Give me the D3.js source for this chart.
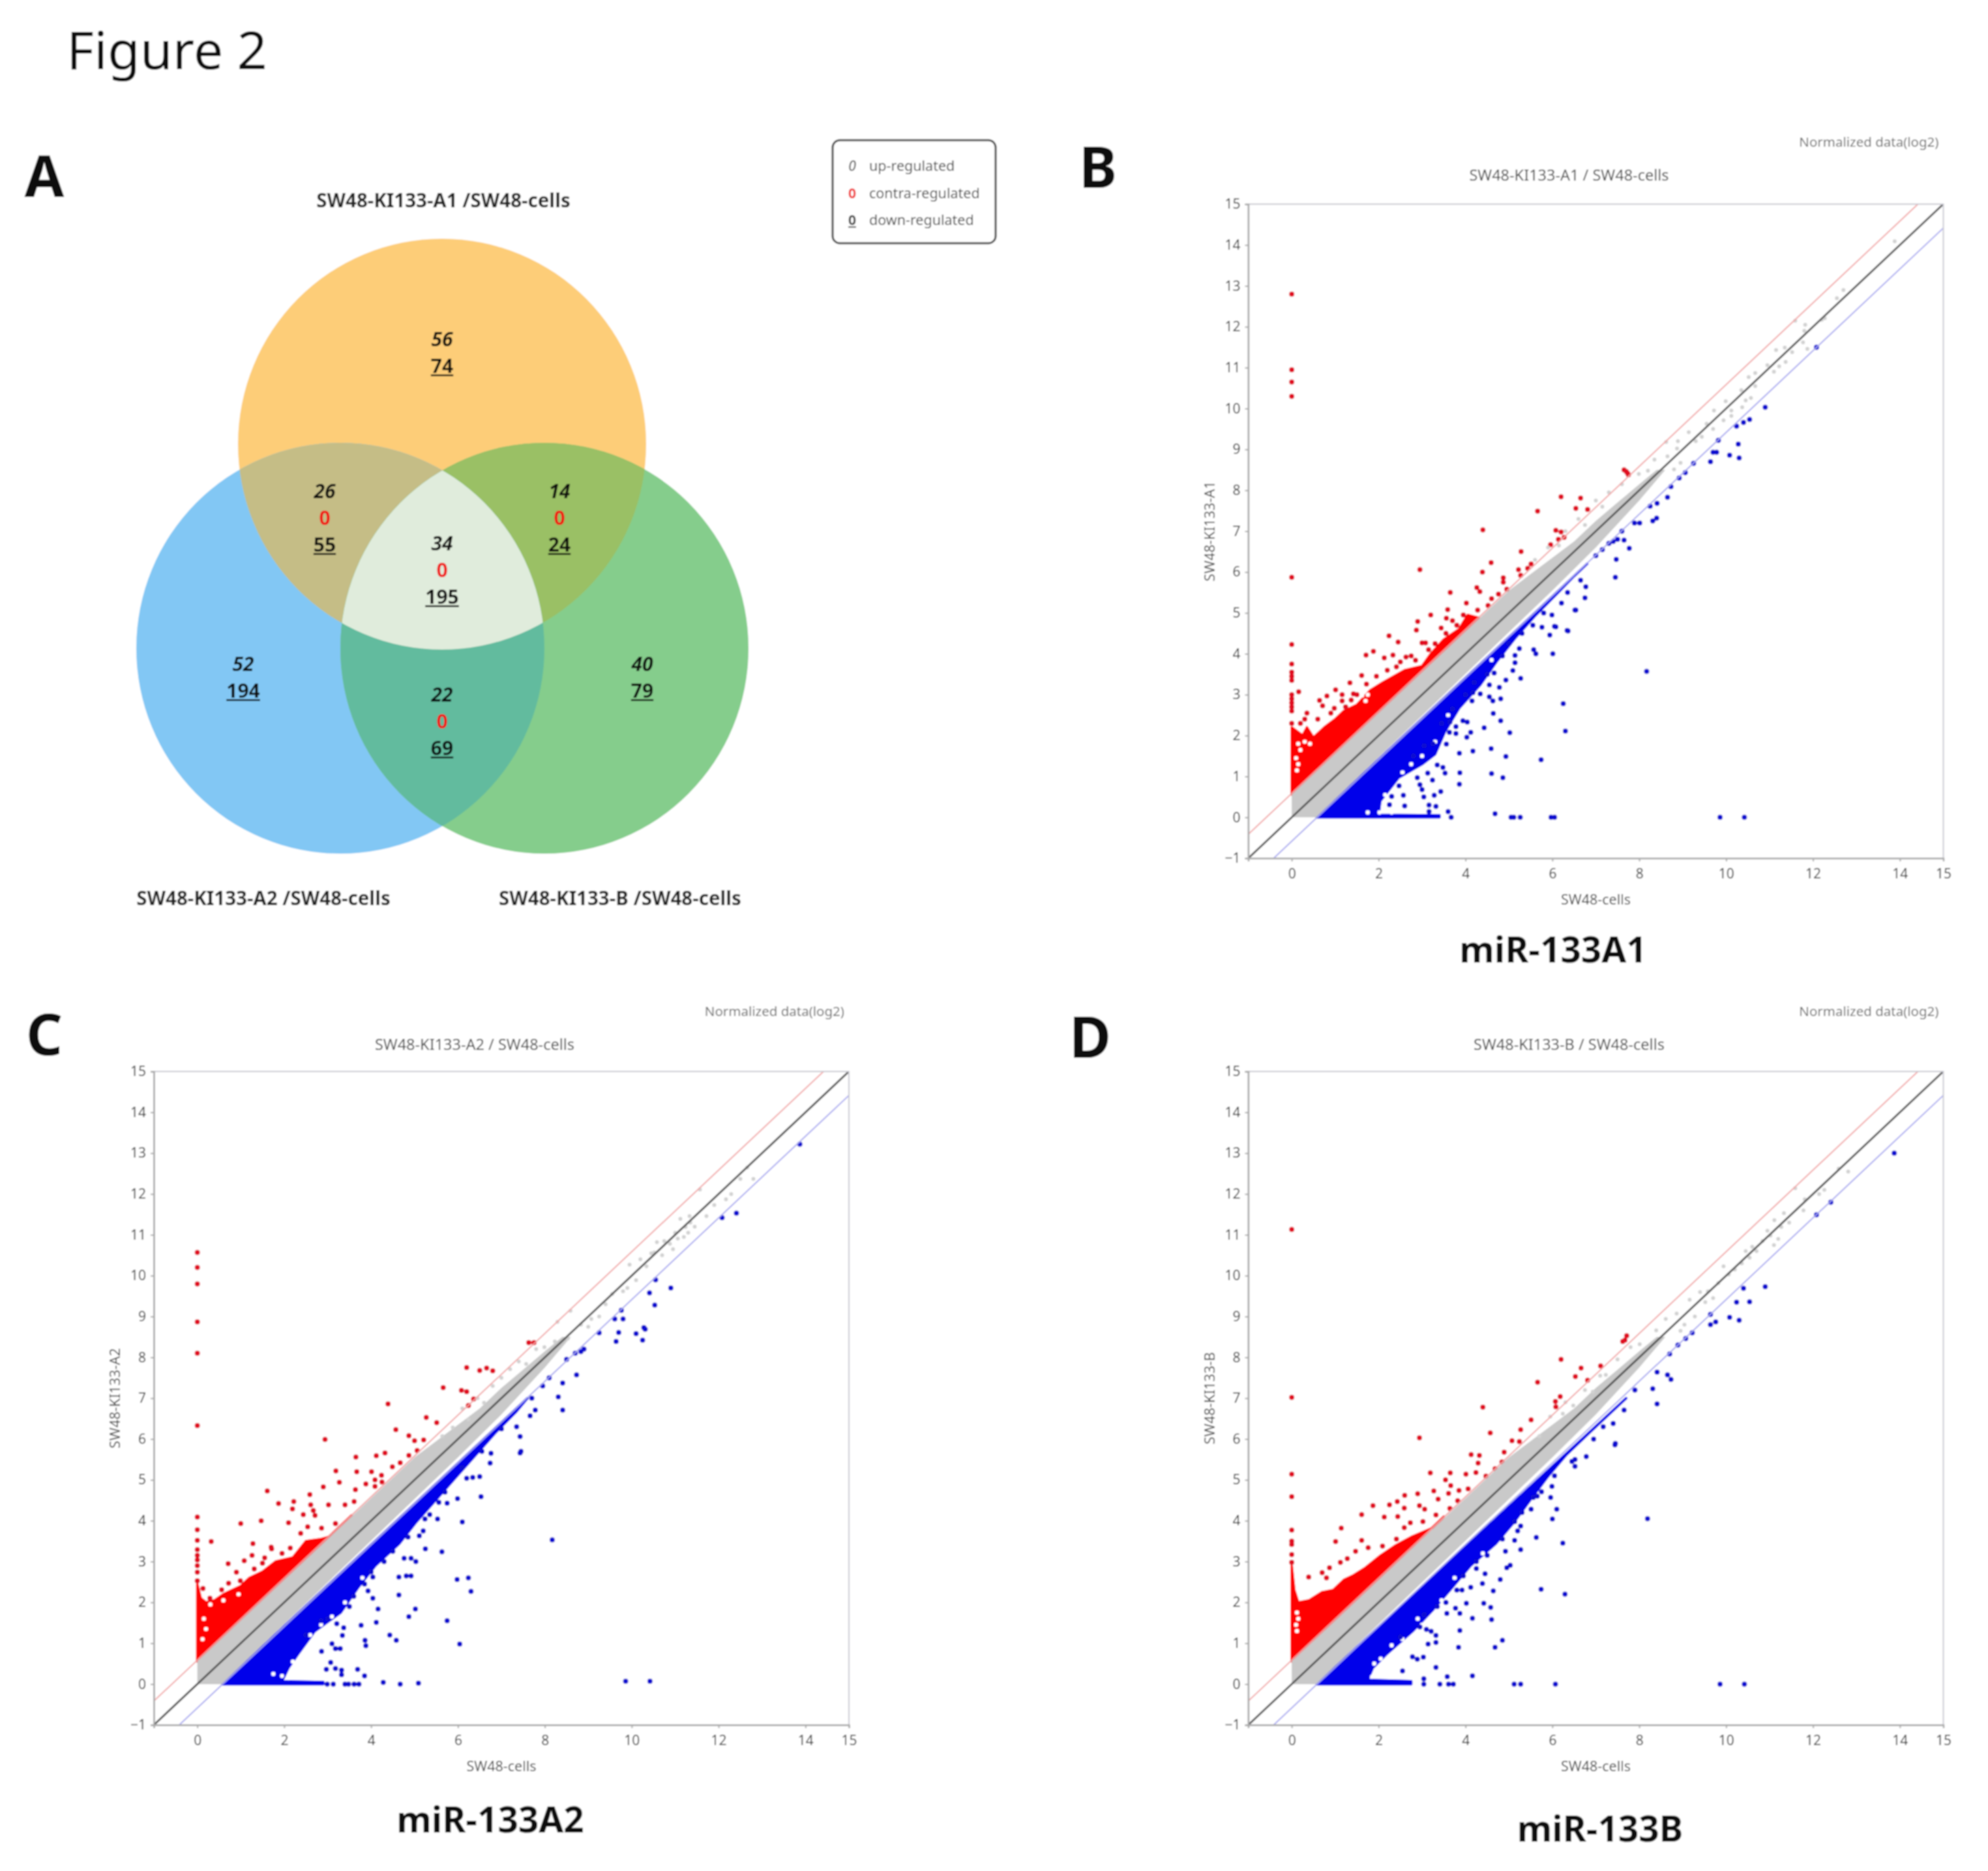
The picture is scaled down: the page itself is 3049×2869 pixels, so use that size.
<!DOCTYPE html>
<html>
<head>
<meta charset="utf-8">
<style>
body { margin: 0; background: #fff; }
text { font-family: "Noto Sans", sans-serif; }
</style>
</head>
<body>
<svg id="fig" width="3049" height="2869"></svg>
<script src="https://d3js.org/d3.v7.min.js"></script>
<script>
// panel A values
var vennUp = [56, 26, 14, 34, 52, 22, 40]
var vennContra = [null, 0, 0, 0, null, 0, null]
var vennDown = [74, 55, 24, 195, 194, 69, 79]
var vennNames = ["SW48-KI133-A1 /SW48-cells", "SW48-KI133-A2 /SW48-cells", "SW48-KI133-B /SW48-cells"]
var legendLabels = ["up-regulated", "contra-regulated", "down-regulated"]

// axes
var xTicks = [0, 2, 4, 6, 8, 10, 12, 14, 15]
var yTicks = [-1, 0, 1, 2, 3, 4, 5, 6, 7, 8, 9, 10, 11, 12, 13, 14, 15]
var foldLines = [0.585, 0, -0.585]

// dense part of the grey band, outline
var greyEdge = [[0,0],[0,.56],[5,5.55],[5.5,5.95],[6,6.35],[6.5,6.75],[7,7.25],[7.5,7.7],[8,8.15],[8.4,8.5],[8.6,8.5],[8,7.75],[7,6.6],[6,5.55],[.56,0]]

// miR-133A1
var a1RedEdge = [[0,.56],[0,2.2],[.25,2],[.35,2.2],[.5,1.95],[.75,2.2],[1,2.4],[1.2,2.6],[1.5,2.75],[1.8,3.1],[2.1,3.3],[2.6,3.6],[3,3.7],[3.2,4],[3.5,4.35],[3.85,4.6],[4.05,4.95],[4.3,4.88]]
var a1BlueEdge = [[.58,0],[3.4,0],[3.4,.05],[2,.06],[2.04,.4],[2.46,.97],[3,1.3],[3.3,1.54],[3.53,2.1],[3.86,2.68],[4.34,3.24],[4.71,3.8],[5.14,4.38],[5.62,4.95],[6.15,5.52],[6.5,5.9],[6.8,6.2]]
var a1Gaps = [[.15,1.8],[.3,1.85],[.42,1.8],[.2,1.65],[.1,1.45],[.15,1.3],[.12,1.15],[1.7,2.85],[1.75,3],[1.62,2.98],[2.1,.2],[2.02,.12],[2.3,.12],[1.75,.12],[2.15,.55],[2.55,1.1],[2.75,1.3],[3,1.5],[3.3,1.85],[3.6,2.5],[4.6,3.85]]
var a1Red = [[0,12.8],[0,10.95],[0,10.65],[0,10.3],[0,5.87],[0,4.23],[0,3.75],[0,3.55],[0,3.45],[0,3.35],[0,3],[0,2.9],[0,2.8],[0,2.7],[0,2.6],[0,2.3],[.16,3.07],[.35,2.55],[.64,2.86],[.81,2.97],[1.01,3.12],[.71,2.73],[.98,2.67],[1.16,3],[1.16,2.85],[1.42,3.02],[1.34,3.29],[1.61,3.47],[1.37,2.87],[1.24,2.7],[1.72,3.26],[1.71,3.97],[1.88,4.06],[2.13,3.9],[2.33,3.97],[2.24,4.44],[2.45,4.29],[2.63,3.92],[2.41,3.68],[2.85,3.84],[2.9,4.79],[2.87,4.58],[2.95,6.06],[3,4.27],[3.08,4.27],[3.2,4.95],[3.44,4.63],[3.59,5.08],[3.65,5.5],[3.56,4.87],[3.7,4.81],[4.02,5.24],[4.26,5.62],[4.33,5.52],[4.28,5.07],[4.39,6],[4.59,6.23],[4.4,7.03],[4.52,5.18],[4.6,5.35],[4.76,5.46],[4.87,5.86],[4.87,5.75],[4.95,5.58],[5.22,6.06],[5.28,6.5],[5.27,5.92],[5.43,6.09],[5.51,6.2],[5.66,7.49],[6.2,7.84],[6.65,7.81],[6.54,7.56],[6.81,7.53],[6.08,7.02],[6.2,6.98],[5.96,6.67],[6.14,6.8],[6.27,6.85],[7.65,8.5],[7.73,8.42],[7.7,8.46],[7.75,8.38],[2.75,3.95],[2.5,3.8],[2.2,3.6],[1.95,3.45],[1.5,3],[.9,2.55],[.6,2.4],[.2,2.3],[.3,2.4],[3.3,4.25],[3.15,4.1],[3.55,4.5],[3.8,4.7],[3.95,4.95]]
var a1Blue = [[4.68,.09],[5.05,0],[5.11,0],[5.26,0],[5.97,0],[6.05,0],[3.67,0],[3.6,.14],[3.16,.14],[3.32,.27],[3.16,.3],[3.43,.63],[3.28,.54],[3.04,.5],[3,.68],[3.86,.81],[3.87,1.09],[3.53,1.08],[3.35,1.28],[3.48,1.22],[3.24,.91],[3.13,1.08],[4.6,1.07],[4.86,.97],[4.59,1.68],[4.93,1.49],[4.17,1.62],[3.86,1.57],[3.56,1.79],[5.74,1.41],[6.3,2.11],[6.25,2.78],[5.02,2.07],[4.43,2.19],[4.81,2.36],[4.64,2.54],[4.81,2.9],[4.78,3.18],[4.93,3.36],[5.27,3.4],[5.14,3.78],[5.09,3.59],[4.63,2.85],[4.55,2.95],[4.34,3.02],[4.17,3.05],[4.15,2.85],[3.94,2.36],[4.04,2.33],[4.12,2.08],[4.03,1.96],[3.78,2.05],[3.63,2.08],[3.78,2.22],[3.64,2.33],[5.57,4.1],[5.62,4],[6.01,4],[5.24,4.13],[5.14,3.96],[6.34,4.57],[6.05,4.67],[5.94,4.46],[5.76,4.65],[5.99,4.95],[6.21,5.24],[6.52,5.07],[4.55,3.24],[4.66,3.53],[6.77,5.64],[6.75,5.37],[6.54,5.07],[6.36,4.56],[6.08,4.66],[7.45,5.87],[7.77,6.58],[7.47,6.31],[7.65,6.78],[7.89,7.2],[8.01,7.2],[8.31,7.25],[8.4,7.32],[8.25,7.61],[8.41,7.68],[8.65,7.83],[8.73,8.09],[8.92,8.3],[9.06,8.43],[9.25,8.66],[9.64,8.7],[9.7,8.93],[9.78,8.93],[10.08,8.86],[10.3,8.79],[10.28,9.13],[9.82,9.22],[10.24,9.57],[10.4,9.66],[10.54,9.73],[10.9,10.03],[12.08,11.5],[8.17,3.57],[9.86,0],[10.42,0],[7,6.4],[7.15,6.55],[7.3,6.7],[7.4,6.75],[7.5,6.8],[7.6,7],[2.89,.97],[2.95,.8],[2.57,.54],[2.6,.28],[2.3,.51],[2.25,.31],[2.47,.77],[2.8,1.5],[3.05,1.75],[3.25,1.8],[3.45,2.3],[3.7,2.65],[4,3],[4.2,3.3],[4.5,3.5],[4.85,3.95],[5,4.25],[5.3,4.5],[5.55,4.7],[5.8,5],[6.35,5.5],[6.65,5.8]]
var a1Grey = [[12.7,12.9],[12.55,12.7],[13.88,14.09],[11.59,12.15],[12.27,12.21],[12.2,12.17],[11.82,12.05],[11.8,11.9],[11.87,11.46],[11.77,11.62],[11.52,11.38],[11.35,11.49],[11.15,11.43],[11.37,11.14],[11.1,10.9],[10.95,11.06],[11.22,11.03],[10.67,10.87],[10.52,10.77],[10.67,10.55],[10.35,10.45],[10.57,10.26],[10.45,10.2],[9.99,10.18],[10.37,10.03],[10.12,9.95],[9.72,9.95],[10.12,9.82],[9.94,9.71],[9.55,9.63],[9.7,9.5],[9.14,9.42],[9.44,9.31],[8.89,9.2],[8.62,9.18],[8.87,9.02],[9.3,9.2],[8.65,8.83],[8.35,8.75],[8.95,8.67],[8.8,8.51],[8.2,8.48],[7.99,8.4],[7.3,7.95],[7,7.75],[6.6,7.3],[6.3,7],[5.9,6.6],[5.6,6.3],[7.6,8.15],[7.15,7.6],[6.75,7.15],[6.15,6.65]]

// miR-133A2
var a2RedEdge = [[0,.56],[0,2.45],[.08,2.1],[.2,2],[.4,2.05],[.6,2.2],[1,2.4],[1.2,2.6],[1.5,2.75],[1.8,3],[2.2,3.1],[2.5,3.5],[2.85,3.55],[3.2,3.65],[3.5,3.95],[3.55,4.13]]
var a2BlueEdge = [[.58,0],[2.9,0],[2.9,.05],[1.95,.07],[2.1,.4],[2.33,.75],[2.7,1.29],[3.3,1.75],[3.7,2.36],[4.1,2.9],[4.65,3.44],[5.05,3.98],[5.5,4.52],[5.95,5.06],[6.4,5.6],[6.85,6.14],[7.35,6.68],[7.6,7]]
var a2Gaps = [[.15,1.6],[.2,1.35],[.12,1.1],[.3,1.95],[.6,2.05],[.95,2.2],[1.95,.2],[1.75,.25],[2.1,.15],[2.2,.55],[2.6,1.2],[2.85,1.45],[3.1,1.65],[3.4,2],[3.8,2.6]]
var a2Red = [[0,10.57],[0,10.2],[0,9.8],[0,8.87],[0,8.1],[0,6.33],[0,4.09],[0,3.78],[0,3.52],[0,3.29],[0,3.15],[0,3.04],[0,2.9],[0,2.74],[0,2.53],[.32,3.49],[1,3.93],[1.47,4],[1.61,4.73],[1.87,4.42],[2.22,4.47],[2.19,4.29],[2.1,3.95],[2.59,4.64],[2.61,4.39],[2.67,4.25],[2.71,4.13],[2.44,4.15],[3.02,4.39],[2.9,4.83],[3.19,5.22],[3.27,4.94],[3.65,5.56],[3.67,5.2],[4.12,5.59],[4.32,5.66],[4.01,5.2],[4.24,5.11],[4.49,5.32],[4.67,5.42],[4.87,5.6],[5.06,5.72],[4.57,6.23],[2.94,5.99],[4.39,6.86],[4.87,6.08],[5,5.96],[5.21,5.98],[5.27,6.53],[5.51,6.4],[1.28,3.44],[.71,2.95],[1.08,3.02],[1.26,3.15],[1.55,3.09],[1.7,3.35],[1.71,3.31],[.9,2.74],[1.5,2.96],[1.31,2.82],[.72,2.47],[.99,2.53],[.56,2.31],[.13,2.34],[.29,2.1],[1.95,3.2],[2.14,3.33],[2.54,3.85],[2.38,3.69],[2.86,3.82],[3.18,3.93],[3.4,4.39],[3.61,4.47],[3.64,4.76],[3.88,4.9],[4.09,5],[4.09,4.84],[4.25,4.95],[5.66,7.26],[6.08,7.19],[6.2,7.16],[6.24,6.82],[6.36,6.98],[6.2,7.75],[6.5,7.68],[6.66,7.74],[6.8,7.67],[7.63,8.36],[7.75,8.36]]
var a2Blue = [[13.87,13.22],[12.41,11.53],[12.08,11.42],[10.9,9.7],[10.55,9.9],[10.41,9.58],[10.53,9.28],[10.28,8.73],[10.31,8.69],[10.25,8.42],[10.1,8.58],[9.64,8.39],[9.7,8.61],[9.8,8.94],[9.76,9.15],[9.61,8.94],[9.25,8.6],[8.83,8.14],[8.73,7.57],[8.41,7.37],[8.41,6.71],[8.31,7.03],[7.45,5.7],[8.17,3.53],[9.86,.07],[10.42,.07],[7.7,7],[7.95,7.3],[8.1,7.5],[8.5,7.95],[8.7,8.1],[8.9,8.2],[5.09,.02],[4.67,0],[4.28,.04],[3.72,0],[3.61,0],[3.48,0],[3.4,0],[3.13,0],[2.99,0],[3.85,.2],[3.69,.36],[3.32,.23],[3.32,.34],[3.18,.38],[3.07,.53],[2.97,.36],[2.86,.8],[3.1,.99],[3.18,.87],[3.29,.87],[3.34,1.19],[3.86,1.07],[3.88,.94],[4.43,1.2],[4.58,1.07],[6.04,.98],[5.75,1.55],[4.12,1.51],[3.77,1.44],[3.37,1.38],[3.21,1.48],[4.87,1.65],[5.02,1.84],[4.16,1.84],[4.64,2.18],[4.04,2.1],[3.93,2.28],[6.3,2.27],[5.98,2.56],[6.24,2.6],[4.64,2.62],[4.81,2.65],[4.92,2.65],[4.04,2.62],[4.76,3.08],[4.92,3.08],[5.03,3],[5.63,3.24],[5.25,3.31],[6.1,3.97],[5.53,4.04],[5.24,4.04],[5.11,3.63],[6.53,4.59],[5.99,4.54],[5.75,4.43],[5.56,4.45],[6.5,5.08],[6.34,5.06],[6.2,5.04],[6.74,5.41],[6.76,5.65],[7.43,5.66],[7.43,6.06],[7.66,6.57],[7.78,6.71],[7.35,6.3],[2.5,1.2],[2.85,1.55],[3,1.6],[3.5,1.9],[3.6,2.15],[3.85,2.45],[4,2.75],[4.3,3],[4.5,3.25],[4.85,3.6],[5.2,3.75],[5.35,4.15],[5.7,4.7],[6.1,5.3],[6.55,5.7],[7,6.25]]
var a2Grey = [[12.66,12.65],[12.5,12.37],[12.8,12.37],[11.57,12.11],[12.29,12],[12.17,11.87],[11.9,11.73],[11.72,11.46],[11.33,11.46],[11.12,11.39],[11.24,11.19],[11.3,11.05],[11.06,10.91],[10.88,10.78],[10.58,10.82],[10.52,10.57],[10.7,10.5],[10.34,10.23],[9.95,10.27],[10.1,9.89],[9.8,9.62],[9.55,9.55],[9.25,9],[9.07,8.94],[8.59,9.14],[8.83,8.8],[8.29,8.87],[8.23,8.39],[8.53,8.46],[7.99,8.25],[7.2,7.71],[7.57,7.84],[6.6,6.89],[6.24,6.48],[5.88,6.28],[5.64,6.07],[11.45,11.2],[11.2,10.95],[11,11.05],[10.95,10.65],[10.75,10.85],[11.35,11.3],[10.45,10.55],[10.2,10.4],[9.9,9.7],[9.4,9.3],[9,8.75],[7.8,8.2],[7.4,7.9],[7,7.5],[6.8,7.3],[6.45,7],[6.1,6.75]]

// miR-133B
var bRedEdge = [[0,.56],[0,2.9],[.06,2.3],[.15,2],[.4,2.05],[.7,2.25],[.95,2.3],[1.2,2.55],[1.4,2.65],[1.7,2.85],[2.05,3.15],[2.4,3.4],[2.75,3.6],[3.3,3.85],[3.5,4.1]]
var bBlueEdge = [[.58,0],[2.75,0],[2.75,.07],[1.75,.1],[1.87,.4],[2.2,.75],[2.78,1.29],[3.26,1.83],[3.69,2.36],[4.12,2.9],[4.7,3.44],[5.13,3.98],[5.5,4.52],[5.88,5.06],[6.31,5.6],[6.84,6.14],[7.3,6.6],[7.7,7]]
var bGaps = [[.12,1.75],[.15,1.6],[.1,1.45],[.12,1.3],[1.85,.18],[2,.2],[2.2,.25],[1.9,.5],[2.05,.62],[2.3,.55],[2.3,.95],[2.55,1.1],[2.9,1.6],[3,1.45],[3.45,2.05],[3.75,2.6],[4.4,3.2]]
var bRed = [[0,11.13],[0,7.02],[0,5.14],[0,4.59],[0,3.77],[0,3.5],[0,3.42],[0,3.17],[0,2.98],[.39,2.62],[1.01,3.49],[1.14,3.82],[.7,2.73],[.8,2.6],[.87,2.85],[1.61,3.52],[1.61,4.15],[1.87,4.37],[2.13,4.09],[2.25,4.39],[2.43,4.47],[2.6,4.62],[2.44,4.1],[2.59,4.31],[2.59,3.83],[2.9,4.66],[2.94,4.37],[3.06,4.28],[2.94,6.03],[3.19,5.17],[3.27,4.73],[3.37,4.53],[3.61,4.67],[3.54,5],[3.65,5.17],[3.66,4.86],[3.85,4.74],[4.01,5.14],[4.13,5.62],[4.32,5.6],[4.29,5.41],[4.24,5.18],[4.06,4.78],[4.68,5.27],[4.47,5.09],[4.84,5.44],[4.89,5.68],[4.57,6.15],[5.07,5.96],[5.24,5.94],[5.27,6.23],[5.51,6.47],[4.4,6.78],[6.18,7.04],[6.07,6.92],[6.08,6.79],[1.28,3.07],[1.12,2.98],[1.47,3.25],[1.76,3.34],[2.09,3.38],[2.41,3.55],[2.73,3.95],[3.02,3.98],[3.32,4.14],[3.64,4.3],[3.82,4.49],[5.66,7.39],[6.2,7.95],[6.53,7.53],[6.66,7.74],[6.81,7.44],[7.11,7.79],[7.67,8.42],[7.71,8.53],[7.62,8.39]]
var bBlue = [[13.87,13],[12.41,11.8],[12.08,11.49],[10.9,9.73],[10.4,9.69],[10.54,9.36],[10.24,9.35],[10.08,8.98],[10.3,8.91],[9.64,9.05],[9.76,8.87],[9.64,8.8],[9.22,8.6],[9.07,8.46],[8.89,8.3],[8.7,8.08],[8.65,7.57],[8.73,7.46],[8.41,7.64],[8.31,7.23],[8.41,6.86],[7.45,5.89],[8.19,4.05],[6.24,3.45],[5.12,0],[5.27,0],[6.07,0],[9.86,0],[10.42,0],[3.72,0],[3.61,0],[3.41,0],[3.04,0],[3.04,.13],[3.58,.18],[4.16,.2],[3.32,.41],[2.55,.32],[3.03,.66],[2.89,.61],[2.78,.67],[3.84,.9],[4.68,.9],[4.85,1.07],[3.14,.98],[3.32,1.02],[3.32,1.19],[3.87,1.31],[3.1,1.34],[3.21,1.29],[4.16,1.61],[4.6,1.58],[3.57,1.73],[3.87,1.73],[3.77,1.86],[4.02,1.98],[4.42,1.98],[4.58,1.88],[3.92,2.3],[4.12,2.37],[4.39,2.46],[4.64,2.28],[6.29,2.2],[5.74,2.32],[4.8,2.56],[4.45,2.7],[4.25,2.83],[4.95,2.85],[5.03,2.91],[5.27,3.29],[4.92,3.25],[5.63,3.59],[5.13,3.52],[5.27,3.87],[5.13,3.98],[6,4.04],[6.1,4.28],[5.51,4.28],[5.56,4.57],[5.96,4.57],[5.99,4.84],[5.75,4.71],[6.52,5.33],[6.52,5.5],[6.78,5.57],[7.44,5.86],[7.17,6.3],[7.4,6.38],[7.65,6.71],[7.9,7.2],[2.5,1.15],[2.95,1.4],[3.05,1.7],[3.35,1.9],[3.55,2],[3.8,2.3],[3.95,2.65],[4.25,3],[4.5,3.15],[4.85,3.55],[5.2,3.75],[5.3,4.2],[5.65,4.6],[6.05,5.1],[6.45,5.45],[6.95,6]]
var bGrey = [[12.81,12.55],[12.59,12.62],[11.59,12.14],[12.26,12.1],[12.14,12],[11.81,11.87],[11.78,11.6],[11.33,11.53],[11.11,11.36],[11.27,11.19],[11.02,10.98],[10.84,10.85],[10.6,10.71],[10.54,10.44],[10.36,10.3],[9.94,10.23],[10.06,10.03],[9.82,9.82],[9.58,9.62],[9.52,9.35],[9.16,9.41],[9.28,9],[8.86,9.07],[8.61,8.94],[9.04,8.8],[8.39,8.66],[8.01,8.32],[7.23,7.57],[6.93,7.16],[6.48,6.82],[6.24,6.62],[5.7,6.07],[11.45,11.3],[11.2,10.9],[10.95,11.1],[10.7,10.6],[11.1,10.75],[10.45,10.6],[10.2,10.15],[9.7,9.45],[9.4,9.6],[8.95,8.65],[7.8,8.25],[7.5,7.95],[7.1,7.55],[6.75,7.2],[6.3,6.9],[5.95,6.55]]

var svg = d3.select("#fig")

// the source figure is a soft, rescaled bitmap
var defs = svg.append("defs")
defs.append("filter").attr("id", "soft").attr("x", 0).attr("y", 0).attr("width", 1).attr("height", 1)
  .append("feGaussianBlur").attr("stdDeviation", 0.9)
var root = svg.append("g").attr("filter", "url(#soft)")
root.append("rect").attr("width", 3049).attr("height", 2869).attr("fill", "#fff")

root.append("text").attr("x", 102).attr("y", 106).attr("font-size", 81).attr("fill", "#111").text("Figure 2")

function letter(t, x, y) {
  root.append("text").attr("x", x).attr("y", y).attr("text-anchor", "middle")
    .attr("font-size", 88).attr("font-weight", 700).attr("fill", "#111").text(t)
}
letter("A", 68, 302)
letter("B", 1684, 288)
letter("C", 68, 1618)
letter("D", 1672, 1622)

// venn
var topC = {cx: 678, cy: 681}, leftC = {cx: 522, cy: 994}, rightC = {cx: 835, cy: 994}
var rx = 313, ry = 315
function addEllipse(sel, c) {
  return sel.append("ellipse").attr("cx", c.cx).attr("cy", c.cy).attr("rx", rx).attr("ry", ry)
}
addEllipse(defs.append("clipPath").attr("id", "clipTop"), topC)
addEllipse(defs.append("clipPath").attr("id", "clipLeft"), leftC)

var venn = root.append("g")
addEllipse(venn, topC).attr("fill", "#fdcd78")
addEllipse(venn, leftC).attr("fill", "#82c7f4")
addEllipse(venn, rightC).attr("fill", "#85cd8c")
addEllipse(venn.append("g").attr("clip-path", "url(#clipTop)"), leftC).attr("fill", "#c5bd86")
addEllipse(venn.append("g").attr("clip-path", "url(#clipTop)"), rightC).attr("fill", "#9ac065")
addEllipse(venn.append("g").attr("clip-path", "url(#clipLeft)"), rightC).attr("fill", "#62bb9e")
addEllipse(venn.append("g").attr("clip-path", "url(#clipTop)").append("g").attr("clip-path", "url(#clipLeft)"), rightC).attr("fill", "#e0ecdc")

// where each region's numbers sit, first line
var vennPos = [[678, 521], [498, 754], [858, 754], [678, 834], [373, 1019], [678, 1066], [985, 1019]]
vennPos.forEach(function(p, i) {
  var y = p[1]
  var t = function(v, color, italic, under) {
    root.append("text").attr("x", p[0]).attr("y", y + 10).attr("text-anchor", "middle")
      .attr("font-size", 30).attr("font-weight", 700)
      .attr("font-style", italic ? "italic" : "normal")
      .attr("text-decoration", under ? "underline" : "none")
      .attr("fill", color).text(v)
    y += 41
  }
  t(vennUp[i], "#111", true, false)
  if (vennContra[i] !== null) t(vennContra[i], "#f01010", false, false)
  t(vennDown[i], "#111", false, true)
})

var namePos = [[680, 308], [404, 1378], [951, 1378]]
vennNames.forEach(function(n, i) {
  root.append("text").attr("x", namePos[i][0]).attr("y", namePos[i][1] + 10).attr("text-anchor", "middle")
    .attr("font-size", 29.5).attr("font-weight", 700).attr("fill", "#222").text(n)
})

// legend
root.append("rect").attr("x", 1277).attr("y", 215).attr("width", 250).attr("height", 158).attr("rx", 11)
  .attr("fill", "#fff").attr("stroke", "#444").attr("stroke-width", 3)
legendLabels.forEach(function(l, i) {
  var y = 262 + i * 41.5
  root.append("text").attr("x", 1307).attr("y", y).attr("text-anchor", "middle").attr("font-size", 21)
    .attr("font-style", i == 0 ? "italic" : "normal").attr("font-weight", i == 0 ? 400 : 700)
    .attr("text-decoration", i == 2 ? "underline" : "none")
    .attr("fill", i == 1 ? "#f01010" : "#333").text("0")
  root.append("text").attr("x", 1333).attr("y", y).attr("font-size", 21.5).attr("fill", "#444").text(l)
})

// scatter panels
function scatter(o) {
  var g = root.append("g")
  var x = d3.scaleLinear().domain([-1, 15]).range([o.left, o.left + 1066])
  var y = d3.scaleLinear().domain([-1, 15]).range([o.bottom, o.bottom - o.height])
  var clipId = "plot" + o.key
  defs.append("clipPath").attr("id", clipId).append("rect")
    .attr("x", x(-1)).attr("y", y(15)).attr("width", x(15) - x(-1)).attr("height", y(-1) - y(15))

  var px = function(d) { return x(d[0]) }, py = function(d) { return y(d[1]) }
  var outline = d3.line().x(px).y(py).curve(d3.curveLinearClosed)
  var plot = g.append("g").attr("clip-path", "url(#" + clipId + ")")

  var lineColors = ["#f2a6a6", "#555", "#a8a8f0"], lineWidths = [2, 3, 2]

  plot.append("path").attr("d", outline(o.redEdge)).attr("fill", "#f00").attr("stroke", "#f00").attr("stroke-width", 4).attr("stroke-linejoin", "round")
  plot.append("path").attr("d", outline(o.blueEdge)).attr("fill", "#0000ea").attr("stroke", "#0000ea").attr("stroke-width", 4).attr("stroke-linejoin", "round")
  plot.selectAll("circle.h").data(o.gaps).enter().append("circle").attr("class", "h")
    .attr("cx", px).attr("cy", py).attr("r", 3.2).attr("fill", "#fff")
  plot.selectAll("circle.r").data(o.red).enter().append("circle").attr("class", "r")
    .attr("cx", px).attr("cy", py).attr("r", 4).attr("fill", "#e01020")
  plot.selectAll("circle.b").data(o.blue).enter().append("circle").attr("class", "b")
    .attr("cx", px).attr("cy", py).attr("r", 4).attr("fill", "#1010d0")
  plot.append("path").attr("d", outline(greyEdge)).attr("fill", "#c9c9c9")
  plot.selectAll("circle.g").data(o.grey).enter().append("circle").attr("class", "g")
    .attr("cx", px).attr("cy", py).attr("r", 3).attr("fill", "#d2d2d2")

  // fold change guides
  foldLines.forEach(function(f, i) {
    plot.append("path").attr("d", d3.line().x(px).y(py)([[-1, -1 + f], [15, 15 + f]]))
      .attr("fill", "none").attr("stroke", lineColors[i]).attr("stroke-width", lineWidths[i])
  })

  // frame
  g.append("rect").attr("x", x(-1)).attr("y", y(15)).attr("width", x(15) - x(-1)).attr("height", y(-1) - y(15))
    .attr("fill", "none").attr("stroke", "#c9c9d2").attr("stroke-width", 2)

  var xAxis = g.append("g").attr("transform", "translate(0," + y(-1) + ")")
    .call(d3.axisBottom(x).tickValues(xTicks).tickSize(5).tickPadding(11).tickFormat(d3.format("d")))
  var yAxis = g.append("g").attr("transform", "translate(" + x(-1) + ",0)")
    .call(d3.axisLeft(y).tickValues(yTicks).tickSize(5).tickPadding(7).tickFormat(d3.format("d")))
  ;[xAxis, yAxis].forEach(function(a) {
    a.selectAll("text").attr("font-size", 21).attr("fill", "#333").style("font-family", '"Noto Sans", sans-serif')
    a.selectAll("line").attr("stroke", "#aaa").attr("stroke-width", 2)
    a.select(".domain").attr("stroke", "#a8a8a8").attr("stroke-width", 2.5)
  })

  g.append("text").attr("x", x(15) - 7).attr("y", y(15) - 88 + o.textShift).attr("text-anchor", "end")
    .attr("font-size", 20.5).attr("fill", "#666").text("Normalized data(log2)")
  g.append("text").attr("x", o.left + 492).attr("y", y(15) - 36 + o.textShift).attr("text-anchor", "middle")
    .attr("font-size", 23.5).attr("fill", "#444").text(o.title)
  g.append("text").attr("x", x(7)).attr("y", y(-1) + 71).attr("text-anchor", "middle")
    .attr("font-size", 21.5).attr("fill", "#444").text("SW48-cells")
  g.append("text").attr("transform", "translate(" + (x(-1) - 52) + "," + y(7) + ") rotate(-90)")
    .attr("text-anchor", "middle").attr("font-size", 21.5).attr("fill", "#444").text(o.yLabel)
  g.append("text").attr("x", o.nameX).attr("y", o.nameY).attr("text-anchor", "middle")
    .attr("font-size", 55).attr("font-weight", 700).attr("fill", "#111").text(o.name)
}

scatter({key: "A1", left: 1914.5, bottom: 1316, height: 1003, textShift: 0, title: "SW48-KI133-A1 / SW48-cells", yLabel: "SW48-KI133-A1", name: "miR-133A1", nameX: 2382, nameY: 1476,
  red: a1Red, blue: a1Blue, grey: a1Grey, redEdge: a1RedEdge, blueEdge: a1BlueEdge, gaps: a1Gaps})
scatter({key: "A2", left: 236, bottom: 2645, height: 1002, textShift: 3, title: "SW48-KI133-A2 / SW48-cells", yLabel: "SW48-KI133-A2", name: "miR-133A2", nameX: 752, nameY: 2810,
  red: a2Red, blue: a2Blue, grey: a2Grey, redEdge: a2RedEdge, blueEdge: a2BlueEdge, gaps: a2Gaps})
scatter({key: "B", left: 1914.5, bottom: 2645, height: 1002, textShift: 3, title: "SW48-KI133-B / SW48-cells", yLabel: "SW48-KI133-B", name: "miR-133B", nameX: 2454, nameY: 2824,
  red: bRed, blue: bBlue, grey: bGrey, redEdge: bRedEdge, blueEdge: bBlueEdge, gaps: bGaps})
</script>
</body>
</html>
